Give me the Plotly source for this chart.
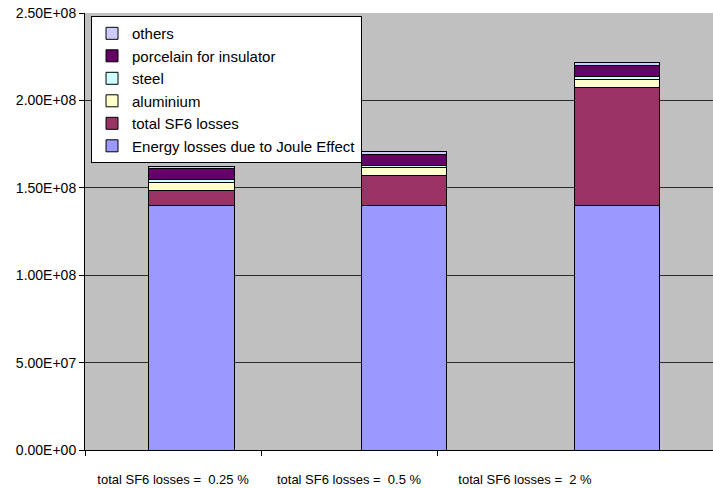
import plotly.graph_objects as go

# Scenario labels (bottom axis)
scenarios = ["total SF6 losses =  0.25 %", "total SF6 losses =  0.5 %", "total SF6 losses =  2 %"]

# Stacked components, bottom to top
joule = [1.40e8, 1.40e8, 1.40e8]
sf6 = [8.4e6, 16.9e6, 67.5e6]
aluminium = [4.5e6, 4.5e6, 4.5e6]
steel = [1.6e6, 1.6e6, 1.6e6]
porcelain = [6.3e6, 6.3e6, 6.3e6]
others = [1.5e6, 1.5e6, 1.5e6]

series_names = ["Energy losses due to Joule Effect", "total SF6 losses", "aluminium",
                "steel", "porcelain for insulator", "others"]
series_values = [joule, sf6, aluminium, steel, porcelain, others]
series_colors = ["#9999FF", "#993366", "#FFFFCC", "#CCFFFF", "#660066", "#CCCCFF"]

y_ticks = [0, 5e7, 1e8, 1.5e8, 2e8, 2.5e8]
y_tick_text = ["0.00E+00", "5.00E+07", "1.00E+08", "1.50E+08", "2.00E+08", "2.50E+08"]

FONT = "Arial, Liberation Sans, sans-serif"
positions = list(range(len(scenarios)))

fig = go.Figure()
n = len(series_names)
for i, (name, vals, col) in enumerate(zip(series_names, series_values, series_colors)):
    fig.add_trace(go.Bar(
        x=positions, y=vals, name=name, legendgroup=name,
        legendrank=(n - i) * 10,  # top of stack listed first
        width=0.4, marker=dict(color=col, line=dict(color="black", width=1)),
    ))

# carrier trace for the category label axis
fig.add_trace(go.Scatter(x=positions, y=[None] * 3, xaxis="x2", showlegend=False,
                         hoverinfo="skip", mode="markers"))

fig.update_layout(
    width=713, height=488,
    margin=dict(l=85, r=0, t=13, b=38),
    barmode="stack",
    paper_bgcolor="white",
    plot_bgcolor="#C0C0C0",
    font=dict(family=FONT, size=13, color="black"),
    xaxis=dict(range=[-0.5, 2.45], showticklabels=False, ticks="", showgrid=False,
               zeroline=False, showline=True, linecolor="black", linewidth=1),
    xaxis2=dict(overlaying="x", anchor="y", side="bottom", range=[-0.5, 3.068],
                tickmode="array", tickvals=positions, ticktext=scenarios, ticks="",
                showgrid=False, zeroline=False, showline=False,
                tickfont=dict(size=13), ticklabelstandoff=20,
                minor=dict(tickmode="array", tickvals=[-0.5, 0.5, 1.5], ticks="outside",
                           ticklen=5, tickcolor="black", showgrid=False)),
    yaxis=dict(range=[0, 2.5e8], tickmode="array", tickvals=y_ticks, ticktext=y_tick_text,
               ticks="outside", ticklen=5, tickcolor="black",
               showgrid=True, gridcolor="#2a2a2a", gridwidth=1,
               zeroline=False, showline=True, linecolor="black", linewidth=1,
               tickfont=dict(size=14)),
    legend=dict(x=0.0096, y=0.993, xanchor="left", yanchor="top",
                bgcolor="white", bordercolor="black", borderwidth=1,
                traceorder="grouped", tracegroupgap=0,
                font=dict(size=15), itemwidth=30),
    showlegend=True,
)

fig.write_html("out.html")
